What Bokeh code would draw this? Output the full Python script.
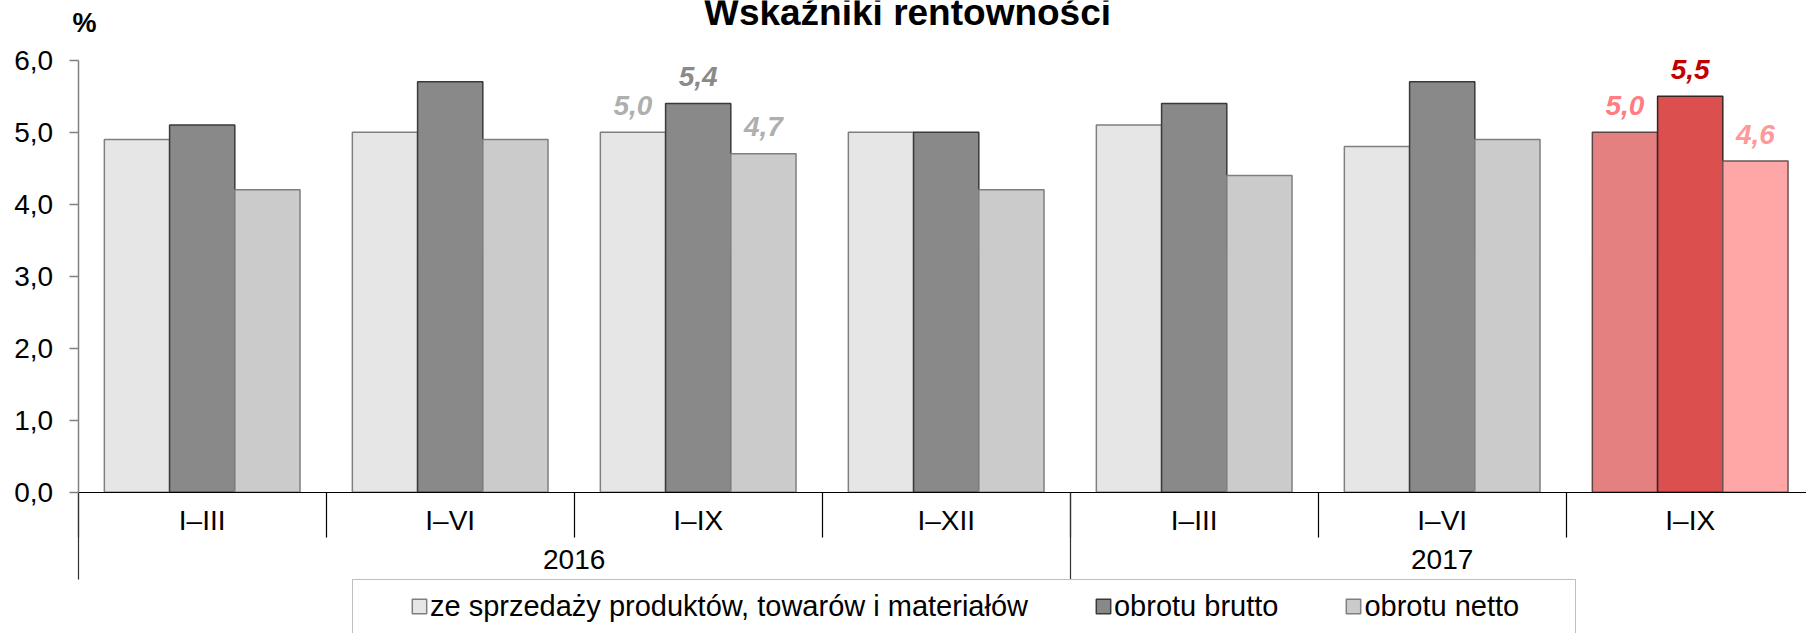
from bokeh.plotting import figure
from bokeh.models import (Range1d, LinearAxis, FixedTicker, ColumnDataSource,
                          Legend, LegendItem, Label)
from bokeh.core.properties import value
from bokeh.embed import file_html
from bokeh.resources import INLINE

# ---------------- data ----------------
periods = ["I–III", "I–VI", "I–IX", "I–XII", "I–III", "I–VI", "I–IX"]
years = ["2016", "2017"]
year_counts = [4, 3]
series_names = ["ze sprzedaży produktów, towarów i materiałów",
                "obrotu brutto", "obrotu netto"]
sprzedaz = [4.9, 5.0, 5.0, 5.0, 5.1, 4.8, 5.0]
brutto = [5.1, 5.7, 5.4, 5.0, 5.4, 5.7, 5.5]
netto = [4.2, 4.9, 4.7, 4.2, 4.4, 4.9, 4.6]
y_ticks = [0, 1, 2, 3, 4, 5, 6]
labelled = [2, 6]          # categories whose values are printed
highlight = 6              # category drawn in red

# ---------------- styles ----------------
FONT = "Liberation Sans"
base_fill = ["#E6E6E6", "#898989", "#CBCBCB"]
base_line = ["#7F7F7F", "#3A3A3A", "#7F7F7F"]
hi_fill = ["#E58080", "#DB4F4F", "#FFA6A6"]
hi_line = ["#5E4545", "#3A2525", "#6A5555"]
label_cols = {2: ["#AFAFAF", "#8A8A8A", "#AFAFAF"],
              6: ["#FF7C80", "#C00000", "#FF9999"]}


def fmt(v):
    return f"{v:.1f}".replace(".", ",")


n = len(periods)
series = [sprzedaz, brutto, netto]
bw = 0.263
offsets = [-bw, 0.0, bw]

# the frame covers the whole canvas; axes are pinned at x=0 / y=0
p = figure(width=1806, height=633,
           x_range=Range1d(-0.3133, 6.969), y_range=Range1d(-1.9625, 6.8292),
           x_axis_type=None, y_axis_type=None,
           output_backend="svg", toolbar_location=None,
           min_border_left=0, min_border_right=0,
           min_border_top=0, min_border_bottom=0)
p.outline_line_color = None
p.background_fill_color = "white"
p.border_fill_color = "white"

# ---------------- bars ----------------
renderers = []
for s, vals in enumerate(series):
    fills = [hi_fill[s] if i == highlight else base_fill[s] for i in range(n)]
    lines = [hi_line[s] if i == highlight else base_line[s] for i in range(n)]
    src = ColumnDataSource(dict(x=[i + 0.5 + offsets[s] for i in range(n)],
                                top=vals, fill=fills, line=lines))
    r = p.vbar(x="x", top="top", bottom=0, width=bw, source=src,
               fill_color="fill", line_color="line", line_width=1.5)
    renderers.append(r)

# ---------------- value labels ----------------
lx, ly, lt, lc = [], [], [], []
for i in labelled:
    for s, vals in enumerate(series):
        lx.append(i + 0.5 + offsets[s])
        ly.append(vals[i])
        lt.append(fmt(vals[i]))
        lc.append(label_cols[i][s])
p.text(x="x", y="y", text="t", text_color="c",
       source=ColumnDataSource(dict(x=lx, y=ly, t=lt, c=lc)),
       text_font=value(FONT), text_font_size="28px",
       text_font_style="bold italic", text_align="center",
       text_baseline="middle", y_offset=-27)

# ---------------- y axis ----------------
yaxis = LinearAxis(ticker=FixedTicker(ticks=y_ticks), bounds=(0, 6),
                   fixed_location=0,
                   major_label_overrides={t: fmt(t) for t in y_ticks},
                   axis_line_color="#808080", axis_line_width=1.5,
                   major_tick_line_color="#808080", major_tick_line_width=1.5,
                   major_tick_in=0, major_tick_out=9,
                   minor_tick_line_color=None,
                   major_label_text_font=FONT, major_label_text_font_size="28px",
                   major_label_text_color="black", major_label_standoff=16)
p.add_layout(yaxis, "left")

# ---------------- x axes (periods, years) ----------------
centers = [i + 0.5 for i in range(n)]
xaxis1 = LinearAxis(ticker=FixedTicker(ticks=centers, minor_ticks=list(range(n + 1))),
                    fixed_location=0, bounds=(0, n),
                    major_label_overrides={c: t for c, t in zip(centers, periods)},
                    axis_line_color="black", axis_line_width=1.2,
                    major_tick_line_color=None, major_tick_in=0, major_tick_out=0,
                    minor_tick_line_color="black", minor_tick_line_width=1.2,
                    minor_tick_in=0, minor_tick_out=45,
                    major_label_text_font=FONT, major_label_text_font_size="28px",
                    major_label_text_color="black", major_label_standoff=-32)
p.add_layout(xaxis1, "below")

edges = [0]
for c in year_counts:
    edges.append(edges[-1] + c)
ycent = [(a + b) / 2 for a, b in zip(edges[:-1], edges[1:])]
xaxis2 = LinearAxis(ticker=FixedTicker(ticks=ycent, minor_ticks=edges),
                    fixed_location=0, bounds=(0, n),
                    major_label_overrides={c: t for c, t in zip(ycent, years)},
                    axis_line_color=None,
                    major_tick_line_color=None, major_tick_in=0, major_tick_out=0,
                    minor_tick_line_color="#303030", minor_tick_line_width=1.2,
                    minor_tick_in=0, minor_tick_out=87,
                    major_label_text_font=FONT, major_label_text_font_size="28px",
                    major_label_text_color="black", major_label_standoff=-29)
p.add_layout(xaxis2, "below")

# ---------------- legend ----------------
dummy = p.vbar(x=[-10], top=[0], width=0.1, fill_color=None, line_color=None)
leg_box = Legend(items=[LegendItem(label=" ", renderers=[dummy])],
                 location=(352, -28), orientation="horizontal",
                 padding=0, margin=0, glyph_width=1, glyph_height=80,
                 label_width=1221, label_height=80, label_standoff=0,
                 label_text_font_size="10px",
                 border_line_color="#7F7F7F", border_line_width=1.5,
                 background_fill_color="white", background_fill_alpha=1)
p.add_layout(leg_box)

leg = Legend(items=[LegendItem(label=nm, renderers=[r], index=0)
                    for nm, r in zip(series_names, renderers)],
             location=(410, 9), orientation="horizontal",
             padding=0, margin=0, spacing=66,
             glyph_width=18, glyph_height=18, label_standoff=2, label_height=36,
             label_text_font=FONT, label_text_font_size="29px",
             label_text_color="black",
             border_line_color=None, background_fill_alpha=0)
p.add_layout(leg)

# ---------------- title and unit ----------------
p.add_layout(Label(x=3.344, y=6.66, text="Wskaźniki rentowności",
                   text_font=FONT, text_font_size="37px", text_font_style="bold",
                   text_align="center", text_baseline="middle",
                   text_color="black"))
p.add_layout(Label(x=-0.023, y=6.515, text="%",
                   text_font=FONT, text_font_size="27px", text_font_style="bold",
                   text_align="left", text_baseline="middle",
                   text_color="black"))

open("out.html", "w").write(file_html(p, INLINE))
